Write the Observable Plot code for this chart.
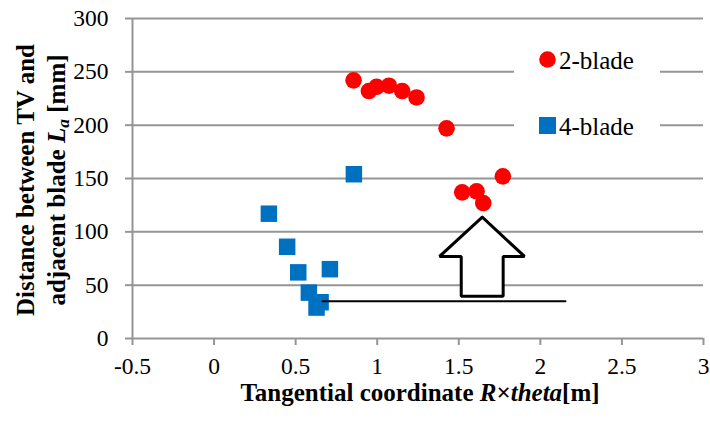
<!DOCTYPE html>
<html><head><meta charset="utf-8">
<script src="https://cdn.jsdelivr.net/npm/d3@7"></script>
<script src="https://cdn.jsdelivr.net/npm/@observablehq/plot@0.6"></script>
<style>
body{margin:0;background:#fff;}
#wrap{position:relative;width:710px;height:421px;font-family:'Liberation Serif',serif;color:#000;}
#wrap svg{position:absolute;left:0;top:0;}
.ytitle{position:absolute;left:-109px;top:149px;width:300px;height:62px;line-height:31px;text-align:center;font-weight:bold;font-size:25px;transform:rotate(-90deg);transform-origin:center;white-space:nowrap;}
.xtitle{position:absolute;left:170px;top:379px;width:500px;text-align:center;font-weight:bold;font-size:25px;white-space:nowrap;}
.legend{position:absolute;left:514px;top:38px;width:146px;height:110px;background:#fff;}
.lg{position:absolute;font-size:25px;white-space:nowrap;line-height:1;}
.sym{position:absolute;}
sub{font-size:0.7em;vertical-align:-0.25em;}
</style></head><body><div id="wrap"></div>
<script>
// 2-blade (red circles)
const blade2X = [0.855, 0.949, 0.996, 1.072, 1.153, 1.241, 1.425, 1.770, 1.521, 1.609, 1.650];
const blade2Y = [242, 232, 236, 237, 232, 226, 197, 152, 137, 138, 127];
// 4-blade (blue squares)
const blade4X = [0.857, 0.336, 0.448, 0.516, 0.581, 0.710, 0.628, 0.653];
const blade4Y = [154, 117, 86, 62, 43, 65, 29, 34];
// axis ticks
const xTicks = [-0.5, 0, 0.5, 1, 1.5, 2, 2.5, 3];
const yTicks = [0, 50, 100, 150, 200, 250, 300];
// annotation: horizontal reference line and hollow arrow (data coordinates)
const refLineX = [0.665, 2.154];
const refLineY = [35, 35];
const arrowX = [1.644, 1.903, 1.772, 1.772, 1.515, 1.515, 1.382, 1.644];
const arrowY = [113.7, 76.9, 76.9, 39.7, 39.7, 76.9, 76.9, 113.7];

const d2 = blade2X.map((x, i) => ({x, y: blade2Y[i]}));
const d4 = blade4X.map((x, i) => ({x, y: blade4Y[i]}));
const refLine = refLineX.map((x, i) => ({x, y: refLineY[i]}));
const arrow = arrowX.map((x, i) => ({x, y: arrowY[i]}));
const grid = yTicks.filter(v => v > 0);

const gray = "#959595";
const axisFont = {fontFamily: "Liberation Serif", fontSize: 23.5};
const chart = Plot.plot({
  width: 710, height: 421,
  marginLeft: 132, marginRight: 7, marginTop: 18, marginBottom: 83,
  style: {fontFamily: "Liberation Serif", fontSize: "23.5px", background: "transparent", color: "#000"},
  x: {domain: [-0.5, 3], ticks: xTicks, tickFormat: d => String(d)},
  y: {domain: [0, 300], ticks: yTicks, tickFormat: d => String(d)},
  marks: [
    Plot.ruleY(grid, {stroke: gray, strokeWidth: 2}),
    Plot.ruleY([0], {stroke: gray, strokeWidth: 2}),
    Plot.ruleX([-0.5], {y1: 0, y2: 300, stroke: gray, strokeWidth: 2}),
    Plot.axisX({ticks: xTicks, tickSize: 7, tickPadding: 12, stroke: gray, strokeWidth: 2, tickFormat: d => String(d), label: null, fill: "#000", ...axisFont}),
    Plot.axisY({ticks: yTicks, tickSize: 7, tickPadding: 17, stroke: gray, strokeWidth: 2, tickFormat: d => String(d), label: null, fill: "#000", ...axisFont}),
    Plot.line(arrow, {x: "x", y: "y", stroke: "#000", fill: "#fff", strokeWidth: 3, strokeLinejoin: "miter", curve: "linear"}),
    Plot.dot(d2, {x: "x", y: "y", r: 8.3, fill: "#FF0000", stroke: "none"}),
    Plot.dot(d4, {x: "x", y: "y", symbol: "square", r: 9.3, fill: "#0070C0", stroke: "none"}),
    Plot.line(refLine, {x: "x", y: "y", stroke: "#000", strokeWidth: 2})
  ]
});
d3.select(chart).selectAll("text")
  .style("font-family", "Liberation Serif")
  .style("font-size", "23.5px");
const wrap = document.getElementById("wrap");
wrap.appendChild(chart);

const lg = document.createElement("div");
lg.className = "legend";
lg.innerHTML = `
<svg class="sym" style="left:25px;top:13px" width="17" height="17"><circle cx="8.5" cy="8.5" r="8.3" fill="#FF0000"/></svg>
<span class="lg" style="left:45px;top:10px">2-blade</span>
<svg class="sym" style="left:25px;top:79px" width="17" height="17"><rect x="0" y="0" width="17" height="17" fill="#0070C0"/></svg>
<span class="lg" style="left:45px;top:76px">4-blade</span>`;
wrap.appendChild(lg);

const yt = document.createElement("div");
yt.className = "ytitle";
yt.innerHTML = `Distance between TV and<br>adjacent blade <i>L<sub>a</sub></i> [mm]`;
wrap.appendChild(yt);

const xt = document.createElement("div");
xt.className = "xtitle";
xt.innerHTML = `Tangential coordinate <i>R</i>×<i>theta</i>[m]`;
wrap.appendChild(xt);
</script>
</body></html>
